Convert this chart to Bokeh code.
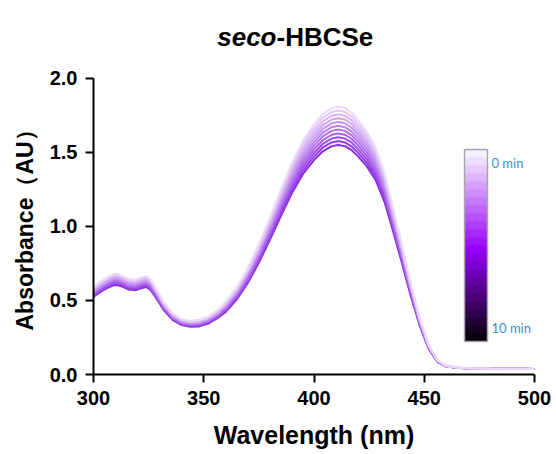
from bokeh.plotting import figure
from bokeh.models import (Range1d, FixedTicker, NumeralTickFormatter, ColorBar,
                          LinearColorMapper, Label, Title, CustomJSTickFormatter)
from bokeh.embed import file_html
from bokeh.resources import INLINE

wavelength = [300, 303, 306, 309, 311, 313, 316, 319, 322, 324,
              326, 329, 332, 336, 340, 344, 348, 352, 356, 360,
              365, 370, 375, 380, 385, 390, 395, 400, 404, 408,
              411, 414, 417, 420, 424, 428, 432, 436, 440, 444,
              448, 452, 456, 460, 465, 470, 480, 490, 500]

abs_0min = [.590, .625, .655, .678, .680, .668, .645, .640, .658, .664,
            .640, .565, .485, .412, .374, .362, .370, .392, .432, .490,
            .590, .720, .880, 1.060, 1.250, 1.430, 1.580, 1.690, 1.760, 1.800,
            1.810, 1.800, 1.770, 1.720, 1.640, 1.530, 1.360, 1.120, .870, .610,
            .380, .200, .095, .058, .047, .043, .040, .039, .038]
abs_1min = [.584, .618, .648, .670, .672, .661, .638, .633, .651, .657,
            .633, .559, .480, .408, .370, .358, .366, .387, .427, .483,
            .582, .710, .868, 1.045, 1.232, 1.410, 1.557, 1.666, 1.735, 1.774,
            1.784, 1.774, 1.745, 1.695, 1.617, 1.508, 1.341, 1.104, .858, .602,
            .375, .197, .094, .058, .047, .043, .040, .039, .038]
abs_2min = [.577, .611, .641, .663, .665, .653, .631, .626, .643, .649,
            .626, .553, .474, .403, .366, .354, .361, .382, .421, .477,
            .574, .700, .855, 1.030, 1.214, 1.389, 1.535, 1.642, 1.710, 1.749,
            1.758, 1.749, 1.719, 1.671, 1.593, 1.486, 1.321, 1.088, .845, .593,
            .370, .195, .093, .057, .047, .043, .040, .039, .038]
abs_3min = [.571, .604, .633, .655, .657, .646, .624, .619, .636, .642,
            .619, .546, .469, .399, .362, .350, .357, .378, .416, .470,
            .565, .690, .843, 1.015, 1.197, 1.369, 1.512, 1.618, 1.685, 1.723,
            1.732, 1.723, 1.694, 1.646, 1.570, 1.465, 1.302, 1.072, .833, .585,
            .365, .192, .092, .057, .046, .043, .040, .039, .038]
abs_4min = [.564, .597, .626, .648, .650, .638, .616, .612, .629, .635,
            .612, .540, .464, .394, .358, .346, .352, .373, .411, .463,
            .557, .680, .830, 1.000, 1.179, 1.349, 1.490, 1.593, 1.659, 1.697,
            1.706, 1.697, 1.669, 1.622, 1.546, 1.443, 1.283, 1.056, .821, .576,
            .359, .190, .091, .057, .046, .042, .040, .039, .038]
abs_5min = [.558, .590, .619, .640, .642, .631, .609, .605, .622, .627,
            .605, .534, .459, .390, .354, .343, .348, .368, .406, .456,
            .549, .670, .818, .985, 1.161, 1.328, 1.467, 1.569, 1.634, 1.671,
            1.681, 1.671, 1.643, 1.597, 1.523, 1.421, 1.263, 1.041, .809, .568,
            .354, .187, .090, .056, .046, .042, .040, .039, .038]
abs_6min = [.551, .584, .612, .633, .635, .624, .602, .598, .614, .620,
            .598, .528, .453, .385, .350, .339, .343, .363, .400, .450,
            .541, .660, .806, .970, 1.143, 1.308, 1.445, 1.545, 1.609, 1.646,
            1.655, 1.646, 1.618, 1.573, 1.499, 1.399, 1.244, 1.025, .796, .559,
            .349, .185, .089, .056, .046, .042, .040, .039, .038]
abs_7min = [.545, .577, .604, .625, .627, .616, .595, .591, .607, .613,
            .591, .522, .448, .381, .346, .335, .339, .359, .395, .443,
            .533, .649, .793, .955, 1.126, 1.287, 1.422, 1.521, 1.584, 1.620,
            1.629, 1.620, 1.593, 1.548, 1.476, 1.377, 1.225, 1.009, .784, .551,
            .344, .182, .088, .055, .045, .042, .040, .039, .038]
abs_8min = [.538, .570, .597, .618, .620, .609, .588, .583, .600, .605,
            .583, .515, .443, .376, .342, .331, .334, .354, .390, .436,
            .524, .639, .781, .940, 1.108, 1.267, 1.400, 1.497, 1.559, 1.594,
            1.603, 1.594, 1.568, 1.523, 1.453, 1.355, 1.205, .993, .772, .542,
            .339, .180, .087, .055, .045, .042, .040, .039, .038]
abs_9min = [.532, .563, .590, .610, .612, .602, .581, .576, .592, .598,
            .576, .509, .437, .372, .338, .327, .330, .349, .384, .429,
            .516, .629, .768, .925, 1.090, 1.247, 1.377, 1.473, 1.534, 1.568,
            1.577, 1.568, 1.542, 1.499, 1.429, 1.334, 1.186, .977, .760, .534,
            .334, .177, .086, .054, .045, .041, .040, .039, .038]
abs_10min = [.525, .556, .583, .603, .605, .594, .574, .569, .585, .591,
             .569, .503, .432, .368, .334, .323, .325, .344, .379, .423,
             .508, .619, .756, .910, 1.072, 1.226, 1.355, 1.449, 1.508, 1.543,
             1.551, 1.543, 1.517, 1.474, 1.406, 1.312, 1.166, .961, .747, .525,
             .329, .175, .085, .054, .045, .041, .040, .039, .038]

spectra = [abs_0min, abs_1min, abs_2min, abs_3min, abs_4min, abs_5min,
           abs_6min, abs_7min, abs_8min, abs_9min, abs_10min]

x_ticks = [300, 350, 400, 450, 500]
y_ticks = [0, 0.5, 1.0, 1.5, 2.0]
time_ticks = [-10, 0]

line_colors = ["#ecd8fa", "#e2c7f8", "#d8b5f5", "#cfa4f3", "#c593f0", "#bb82ee",
               "#b170ec", "#a75fe9", "#9e4ee7", "#943ce4", "#8a2be2"]
bar_colors = ["#08000c", "#150022", "#220037", "#2f004d", "#3c0062", "#490078",
              "#56008e", "#6300a3", "#6f00b9", "#7c00cf", "#8900e4", "#9600fa",
              "#9e14fc", "#a628fc", "#ae3cfc", "#b650fd", "#be64fd", "#c678fd",
              "#ce8cfd", "#d6a0fe", "#deb4fe", "#e6c8fe", "#eedcff", "#f6eeff"]

# frame reaches the top of the canvas so the title can sit inside it;
# the y axis itself is bounded to 0..2
p = figure(width=556, height=454, x_range=Range1d(300, 500), y_range=Range1d(0, 2.527),
           output_backend="svg", toolbar_location=None,
           min_border_left=92, min_border_right=22, min_border_top=0, min_border_bottom=80)
p.xgrid.visible = False
p.ygrid.visible = False
p.outline_line_color = None
p.background_fill_color = "white"
p.border_fill_color = "white"

for i in range(len(spectra) - 1, -1, -1):
    p.line(wavelength, spectra[i], line_color=line_colors[i], line_width=2)

for ax in (p.xaxis[0], p.yaxis[0]):
    ax.axis_line_width = 2
    ax.axis_line_color = "black"
    ax.major_tick_line_width = 2
    ax.major_tick_line_color = "black"
    ax.major_tick_out = 8
    ax.major_tick_in = 0
    ax.minor_tick_line_color = None
    ax.major_label_text_font = "Liberation Sans"
    ax.major_label_text_font_style = "bold"
    ax.major_label_text_font_size = "20px"
    ax.major_label_text_color = "black"
    ax.axis_label_text_font = "Liberation Sans"
    ax.axis_label_text_font_style = "bold"
    ax.axis_label_text_color = "black"

p.yaxis.bounds = (0, 2)
p.xaxis.axis_label_text_font_size = "25px"
p.xaxis.ticker = FixedTicker(ticks=x_ticks)
p.yaxis.ticker = FixedTicker(ticks=y_ticks)
p.yaxis.formatter = NumeralTickFormatter(format="0.0")
p.xaxis.axis_label = "Wavelength (nm)"
p.xaxis.major_label_standoff = 8
p.yaxis.major_label_standoff = 8
p.xaxis.axis_label_standoff = 13

ylab = Title(text="Absorbance（AU）", align="left", offset=44, vertical_align="bottom",
             standoff=18, text_font="Liberation Sans", text_font_style="bold",
             text_font_size="23px", text_color="black")
p.add_layout(ylab, "left")

mapper = LinearColorMapper(palette=bar_colors, low=-10.8, high=0.8)
cb = ColorBar(color_mapper=mapper, orientation="vertical", location=(371, 33),
              width=23, height=192, padding=0, margin=0,
              ticker=FixedTicker(ticks=time_ticks),
              formatter=CustomJSTickFormatter(code="return Math.abs(tick) + ' min'"),
              major_tick_line_color=None, minor_tick_line_color=None,
              bar_line_color="#a6a6a6", bar_line_width=1.5,
              border_line_color=None, background_fill_color=None,
              major_label_text_color="#3d8fd1", major_label_text_font="Lato",
              major_label_text_font_size="13px", label_standoff=4)
p.add_layout(cb)

t1 = Label(x=183, y=338, x_units="screen", y_units="screen", text="seco",
           text_align="right", text_baseline="alphabetic", text_font="Liberation Sans",
           text_font_style="bold italic", text_font_size="26px", text_color="black")
t2 = Label(x=183, y=338, x_units="screen", y_units="screen", text="-HBCSe",
           text_align="left", text_baseline="alphabetic", text_font="Liberation Sans",
           text_font_style="bold", text_font_size="26px", text_color="black")
p.add_layout(t1)
p.add_layout(t2)

open("out.html", "w").write(file_html(p, INLINE))
